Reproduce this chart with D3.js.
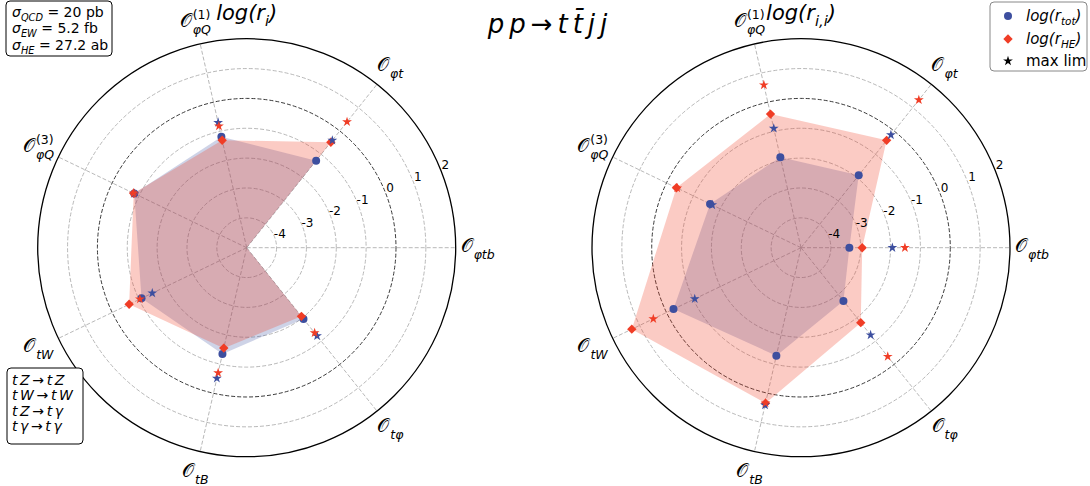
<!DOCTYPE html>
<html><head><meta charset="utf-8">
<script src="https://cdn.jsdelivr.net/npm/d3@7"></script>
<style>
body{margin:0;background:#fff}
svg{display:block;font-family:"DejaVu Sans",sans-serif}
</style>
</head><body>
<svg id="chart" width="1090" height="486"></svg>
<script>
// ---------- data ----------
const axisSubs = ["φtb","φt","φQ","φQ","tW","tB","tφ"];
const axisSups = ["","","(1)","(3)","","",""];
const ringTicks = [-4,-3,-2,-1,0,1,2];
const rMin = -5, rMax = 2;

const leftTot    = [-5, -1.27, -1.19, -0.82, -1.09, -1.35, -1.95];
const leftHE     = [-5, -0.48, -1.31, -0.80, -0.63, -1.55, -2.06];
const leftTotLim = [null, -0.40, -0.70, -0.82, -1.49, -0.51, -1.22];
const leftHELim  = [null, 0.39, -0.82, -0.80, -1.03, -0.70, -1.35];

const rightTot    = [-3.38, -1.90, -1.89, -1.62, -0.26, -1.29, -2.72];
const rightHE     = [-2.95, -0.40, -0.41, -0.37, 1.29, 0.34, -1.79];
const rightTotLim = [-1.94, -0.17, -0.90, -1.70, -1.05, 0.41, -1.26];
const rightHELim  = [-1.52, 1.33, 0.59, -0.40, 0.49, 0.34, -0.34];

const panelTitleSubs = ["i", "i,i"];
const sigmaNames  = ["QCD","EW","HE"];
const sigmaValues = ["20 pb","5.2 fb","27.2 ab"];
const processFrom = ["tZ","tW","tZ","tγ"];
const processTo   = ["tZ","tW","tγ","tγ"];
const legendSubs  = ["tot","HE"];

// ---------- style ----------
const BLUE = "#3d4f9f", RED = "#f03d26";
const svg = d3.select("#chart");
const R = 209;
const n = axisSubs.length;
const rScale = d3.scaleLinear().domain([rMin, rMax]).range([0, R]);
const aScale = d3.scaleLinear().domain([0, n]).range([Math.PI/2, Math.PI/2 - 2*Math.PI]);

function math(sel, segs, fs) {
  let off = 0;
  segs.forEach(s => {
    const target = s.sub ? fs*0.28 : (s.sup ? -fs*0.4 : 0);
    sel.append("tspan").text(s.t)
      .attr("dy", target - off)
      .style("font-size", (s.sub || s.sup) ? (fs*0.7)+"px" : fs+"px")
      .style("font-style", s.it ? "italic" : "normal");
    off = target;
  });
}

const diamond = d3.symbol().type(d3.symbolSquare).size(44);
const star = d3.symbol().type(d3.symbolStar).size(30);

function panel(cx, cy, tot, he, totLim, heLim, titleSub) {
  const g = svg.append("g").attr("transform", `translate(${cx},${cy})`);
  // spokes
  g.selectAll("line.spoke").data(d3.range(n)).join("line")
    .attr("x1", 0).attr("y1", 0)
    .attr("x2", i => d3.pointRadial(aScale(i), R)[0])
    .attr("y2", i => d3.pointRadial(aScale(i), R)[1])
    .attr("stroke", "#b0b0b0").attr("stroke-width", 0.9).attr("stroke-dasharray", "4,2");
  // rings
  g.selectAll("circle.ring").data(ringTicks.filter(t => t < rMax)).join("circle")
    .attr("r", t => rScale(t)).attr("fill", "none")
    .attr("stroke", t => t === 0 ? "#222" : "#b0b0b0")
    .attr("stroke-width", 0.9).attr("stroke-dasharray", "4,2");
  g.append("circle").attr("r", rScale(rMax)).attr("fill", "none")
    .attr("stroke", "#000").attr("stroke-width", 1.3);
  // fills
  const line = d3.lineRadial().angle((d, i) => aScale(i)).radius(d => rScale(d)).curve(d3.curveLinearClosed);
  g.append("path").attr("d", line(tot)).attr("fill", BLUE).attr("fill-opacity", 0.25);
  g.append("path").attr("d", line(he)).attr("fill", RED).attr("fill-opacity", 0.27);
  const pts = arr => arr.map((v, i) => ({v, i})).filter(d => d.v !== null && d.v > rMin);
  const pos = d => d3.pointRadial(aScale(d.i), rScale(d.v));
  g.selectAll("circle.tot").data(pts(tot)).join("circle")
    .attr("cx", d => pos(d)[0]).attr("cy", d => pos(d)[1]).attr("r", 4).attr("fill", BLUE);
  g.selectAll("path.he").data(pts(he)).join("path")
    .attr("d", diamond).attr("fill", RED)
    .attr("transform", d => `translate(${pos(d)[0]},${pos(d)[1]}) rotate(45)`);
  g.selectAll("path.tl").data(pts(totLim)).join("path")
    .attr("d", star).attr("fill", BLUE)
    .attr("transform", d => `translate(${pos(d)[0]},${pos(d)[1]})`);
  g.selectAll("path.hl").data(pts(heLim)).join("path")
    .attr("d", star).attr("fill", RED)
    .attr("transform", d => `translate(${pos(d)[0]},${pos(d)[1]})`);
  // tick labels
  const la = aScale(0) - Math.PI/8;
  g.selectAll("text.tick").data(ringTicks).join("text")
    .attr("x", t => d3.pointRadial(la, rScale(t) + 6)[0])
    .attr("y", t => d3.pointRadial(la, rScale(t) + 6)[1])
    .attr("text-anchor", "middle").attr("dominant-baseline", "central")
    .attr("fill", "#000")
    .style("font-size", "12px").text(d => d);
  // axis labels
  d3.range(n).forEach(i => {
    const lg = g.append("g");
    const t0 = lg.append("text").text("𝒪").style("font-size", "19px").attr("y", 0);
    const w = t0.node().getComputedTextLength();
    if (axisSups[i]) lg.append("text").attr("x", w + 1).attr("y", -8).style("font-size", "12.5px").text(axisSups[i]);
    lg.append("text").attr("x", w + 1).attr("y", 7).style("font-size", "12.5px").style("font-style", "italic").text(axisSubs[i]);
    const bb = lg.node().getBBox();
    const p = d3.pointRadial(aScale(i), 231);
    lg.attr("transform", `translate(${p[0] - bb.x - bb.width/2},${p[1] - bb.y - bb.height/2})`);
  });
  // panel title
  const tt = svg.append("text").attr("x", cx).attr("y", 20).attr("text-anchor", "middle");
  math(tt, [{t:"log(r", it:true}, {t:titleSub, it:true, sub:true}, {t:")", it:true}], 21);
}

panel(246.7, 247.7, leftTot, leftHE, leftTotLim, leftHELim, panelTitleSubs[0]);
panel(801, 247.7, rightTot, rightHE, rightTotLim, rightHELim, panelTitleSubs[1]);

// main title
const title = svg.append("text").attr("x", 550).attr("y", 33).attr("text-anchor", "middle")
  .style("font-size", "26px").style("letter-spacing", "5px");
title.append("tspan").style("font-style", "italic").text("pp");
title.append("tspan").text("→");
title.append("tspan").style("font-style", "italic").text("tt\u0304jj");

// sigma box
svg.append("rect").attr("x", 6).attr("y", 1).attr("width", 106).attr("height", 55).attr("rx", 4)
  .attr("fill", "#fff").attr("stroke", "#000").attr("stroke-width", 1);
sigmaNames.forEach((s, i) => {
  const t = svg.append("text").attr("x", 12).attr("y", 17 + i*16.3);
  math(t, [{t:"σ", it:true}, {t:s, it:true, sub:true}, {t:" = " + sigmaValues[i]}], 14);
});

// process box (one text element, one line per tspan group)
svg.append("rect").attr("x", 7).attr("y", 368).attr("width", 76).attr("height", 76).attr("rx", 4)
  .attr("fill", "#fff").attr("stroke", "#000").attr("stroke-width", 1);
const procText = svg.append("text").attr("x", 12).attr("y", 384.5)
  .style("font-size", "14px").style("letter-spacing", "2.6px");
processFrom.forEach((p, i) => {
  procText.append("tspan").attr("x", 12).attr("dy", i === 0 ? 0 : 15.6)
    .style("font-style", "italic").text(p);
  procText.append("tspan").text("→");
  procText.append("tspan").style("font-style", "italic").text(processTo[i]);
});

// legend
svg.append("rect").attr("x", 990).attr("y", 2).attr("width", 97).attr("height", 69).attr("rx", 4)
  .attr("fill", "#fff").attr("stroke", "#888").attr("stroke-width", 1);
svg.append("circle").attr("cx", 1008).attr("cy", 16).attr("r", 4).attr("fill", BLUE);
svg.append("path").attr("d", diamond).attr("fill", RED).attr("transform", "translate(1008,39) rotate(45)");
svg.append("path").attr("d", star).attr("fill", "#000").attr("transform", "translate(1008,61)");
legendSubs.forEach((s, i) => {
  const t = svg.append("text").attr("x", 1026).attr("y", 21 + i*23);
  math(t, [{t:"log(r", it:true}, {t:s, it:true, sub:true}, {t:")", it:true}], 15);
});
svg.append("text").attr("x", 1026).attr("y", 66).style("font-size", "15px").text("max lim");
</script>
</body></html>
